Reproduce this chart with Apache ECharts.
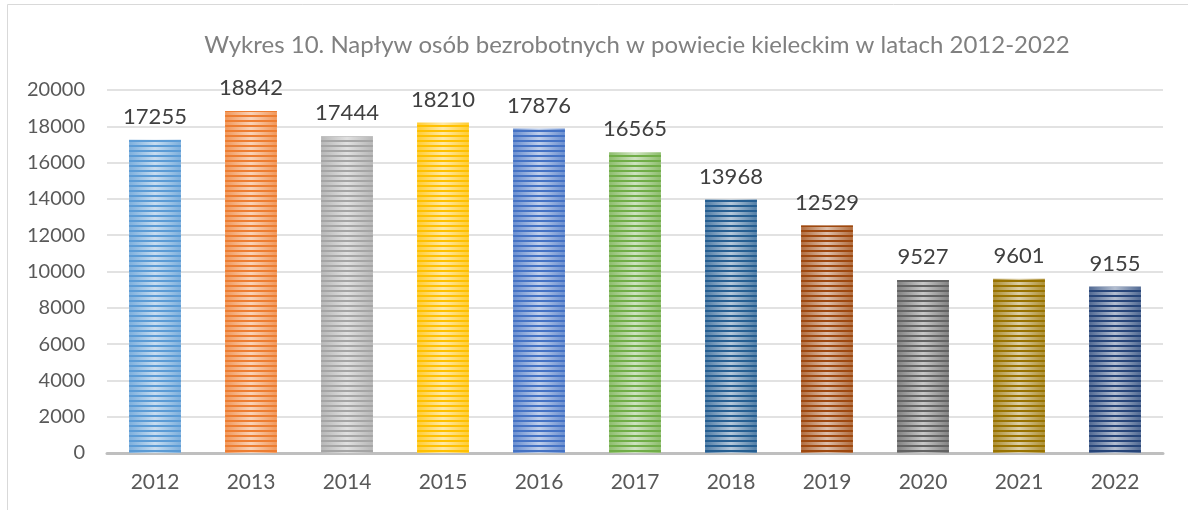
<!DOCTYPE html>
<html>
<head>
<meta charset="utf-8">
<script src="https://cdn.jsdelivr.net/npm/echarts@6/dist/echarts.min.js"></script>
<style>
  html, body { margin: 0; padding: 0; background: #fff; }
  #chart { width: 1188px; height: 510px; }
</style>
</head>
<body>
<div id="chart"></div>
<script>
// lata
var years = ['2012', '2013', '2014', '2015', '2016', '2017', '2018', '2019', '2020', '2021', '2022']
// napływ bezrobotnych
var inflow = [17255, 18842, 17444, 18210, 17876, 16565, 13968, 12529, 9527, 9601, 9155]
// kolory słupków (paleta Office)
var barColors = ['#5B9BD5', '#ED7D31', '#A5A5A5', '#FFC000', '#4472C4', '#70AD47',
  '#255E91', '#9E480E', '#636363', '#997300', '#264478']
// oś Y
var yTicks = [0, 2000, 4000, 6000, 8000, 10000, 12000, 14000, 16000, 18000, 20000]

var font = 'Lato'

function mix(hex, t) {
  // rozjaśnienie koloru w stronę bieli
  var r = parseInt(hex.slice(1, 3), 16), g = parseInt(hex.slice(3, 5), 16), b = parseInt(hex.slice(5, 7), 16)
  r = Math.round(r + (255 - r) * t); g = Math.round(g + (255 - g) * t); b = Math.round(b + (255 - b) * t)
  return 'rgb(' + r + ',' + g + ',' + b + ')'
}

var barData = inflow.map(function (v, i) {
  var c = barColors[i]
  return {
    value: v,
    itemStyle: {
      color: {
        type: 'linear', x: 0, y: 0, x2: 1, y2: 0,
        colorStops: [
          { offset: 0, color: mix(c, 0.2) },
          { offset: 0.5, color: mix(c, 0.65) },
          { offset: 1, color: mix(c, 0.2) }
        ]
      },
      decal: {
        symbol: 'rect',
        color: c,
        dashArrayX: [1, 0],
        dashArrayY: [2, 3],
        rotation: 0,
        symbolSize: 1
      }
    }
  }
})

var chart = echarts.init(document.getElementById('chart'), null, { renderer: 'canvas' })
chart.setOption({
  animation: false,
  backgroundColor: '#fff',
  title: {
    text: 'Wykres 10. Napływ osób bezrobotnych w powiecie kieleckim w latach 2012-2022',
    left: 632, top: 28, textAlign: 'center',
    textStyle: { fontFamily: font, fontSize: 24, fontWeight: 'normal', color: '#808080' }
  },
  graphic: [{
    type: 'rect', shape: { x: 7.5, y: 4.5, width: 1200, height: 520 },
    style: { fill: 'none', stroke: '#d9d9d9', lineWidth: 1 }, silent: true
  }],
  grid: { left: 107, right: 25, top: 90, bottom: 57 },
  xAxis: {
    type: 'category',
    data: years,
    axisLine: { lineStyle: { color: '#bfbfbf', width: 3 } },
    axisTick: { show: false },
    axisLabel: { fontFamily: font, fontSize: 21, color: '#595959', margin: 19 }
  },
  yAxis: {
    type: 'value',
    min: yTicks[0], max: yTicks[yTicks.length - 1], interval: 2000,
    axisLine: { show: false },
    axisTick: { show: false },
    splitLine: { lineStyle: { color: '#d9d9d9', width: 1.5 } },
    axisLabel: {
      fontFamily: font, fontSize: 20, color: '#595959', margin: 22,
      formatter: function (v) { return String(v) }
    }
  },
  series: [{
    type: 'bar',
    data: barData,
    barWidth: '54%',
    label: {
      show: true, position: 'top', distance: 12,
      fontFamily: font, fontSize: 22, color: '#404040'
    }
  }]
})
</script>
</body>
</html>
